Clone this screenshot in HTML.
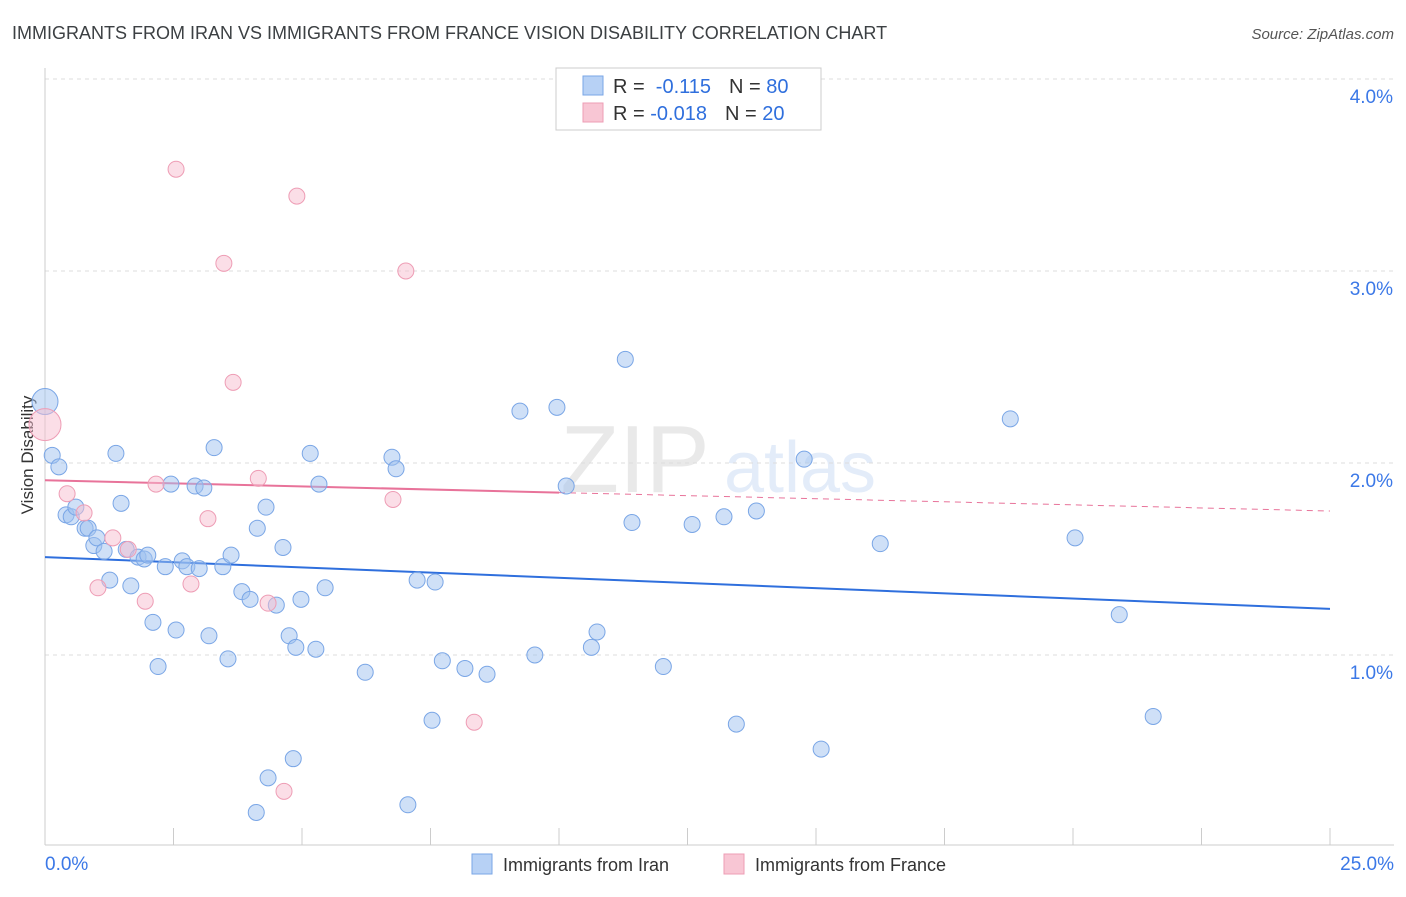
<!DOCTYPE html>
<html><head><meta charset="utf-8"><style>
body{margin:0;background:#fff;font-family:"Liberation Sans",sans-serif;}
svg text{font-family:"Liberation Sans",sans-serif;}
</style></head><body>
<svg id="chart" width="1406" height="892" viewBox="0 0 1406 892" xmlns="http://www.w3.org/2000/svg">
<text x="12" y="39" font-size="18" fill="#3c4043">IMMIGRANTS FROM IRAN VS IMMIGRANTS FROM FRANCE VISION DISABILITY CORRELATION CHART</text>
<text x="1394" y="39" font-size="15" fill="#555" text-anchor="end" font-style="italic">Source: ZipAtlas.com</text>
<text transform="translate(33,455) rotate(-90)" font-size="17" fill="#333" text-anchor="middle">Vision Disability</text>
<g opacity="0.18">
<text x="635" y="492" font-size="96" font-family="Liberation Serif" fill="#888" text-anchor="middle">ZIP</text>
<text x="800" y="492" font-size="72" fill="#6a9be0" text-anchor="middle">atlas</text>
</g>
<g id="grid"></g><g id="axes"></g><g id="trends"></g><g id="points"></g>
<g>
<rect x="556" y="68" width="265" height="62" fill="#fff" stroke="#ccc"/>
<rect x="583" y="76" width="20" height="19" fill="#b7d1f5" stroke="#7aa6e6"/>
<text x="613" y="93" font-size="20" fill="#333">R = <tspan fill="#2f6fdd">&#160;-0.115</tspan><tspan dx="18">N = </tspan><tspan fill="#2f6fdd">80</tspan></text>
<rect x="583" y="103" width="20" height="19" fill="#f8c6d4" stroke="#ee9db5"/>
<text x="613" y="120" font-size="20" fill="#333">R = <tspan fill="#2f6fdd">-0.018</tspan><tspan dx="18">N = </tspan><tspan fill="#2f6fdd">20</tspan></text>
</g>
<g>
<rect x="472" y="854" width="20" height="20" fill="#b7d1f5" stroke="#7aa6e6"/>
<text x="503" y="871" font-size="18" fill="#333">Immigrants from Iran</text>
<rect x="724" y="854" width="20" height="20" fill="#f8c6d4" stroke="#ee9db5"/>
<text x="755" y="871" font-size="18" fill="#333">Immigrants from France</text>
</g>
</svg>
<script>
const yTicks=[1,2,3,4];
const yTickLabels=["1.0%","2.0%","3.0%","4.0%"];
const xTickLabels=["0.0%","25.0%"];
const iranX=[0,0.14,0.27,0.41,0.51,0.60,0.78,0.84,0.95,1.01,1.15,1.26,1.38,1.48,1.58,1.67,1.81,1.93,2.00,2.10,2.20,2.34,2.45,2.55,2.67,2.76,2.92,3.00,3.09,3.19,3.29,3.46,3.56,3.62,3.83,3.99,4.11,4.13,4.30,4.34,4.50,4.63,4.75,4.83,4.88,4.98,5.16,5.27,5.33,5.45,6.23,6.75,6.83,7.06,7.24,7.53,7.59,7.73,8.17,8.60,9.24,9.53,9.96,10.14,10.63,10.74,11.29,11.42,12.03,12.59,13.21,13.45,13.84,14.77,15.10,16.25,18.78,20.04,20.90,21.56];
const iranY=[2.32,2.04,1.98,1.73,1.72,1.77,1.66,1.66,1.57,1.61,1.54,1.39,2.05,1.79,1.55,1.36,1.51,1.50,1.52,1.17,0.94,1.46,1.89,1.13,1.49,1.46,1.88,1.45,1.87,1.10,2.08,1.46,0.98,1.52,1.33,1.29,0.18,1.66,1.77,0.36,1.26,1.56,1.10,0.46,1.04,1.29,2.05,1.03,1.89,1.35,0.91,2.03,1.97,0.22,1.39,0.66,1.38,0.97,0.93,0.90,2.27,1.00,2.29,1.88,1.04,1.12,2.54,1.69,0.94,1.68,1.72,0.64,1.75,2.02,0.51,1.58,2.23,1.61,1.21,0.68];
const franceX=[0,0.43,0.76,1.03,1.32,1.62,1.95,2.16,2.55,2.84,3.17,3.48,3.66,4.15,4.34,4.65,4.90,6.77,7.02,8.35];
const franceY=[2.20,1.84,1.74,1.35,1.61,1.55,1.28,1.89,3.53,1.37,1.71,3.04,2.42,1.92,1.27,0.29,3.39,1.81,3.00,0.65];
const iranTrend=[1.51,1.24];
const franceTrend=[1.91,1.75];
const franceSolidEnd=10;
const NS="http://www.w3.org/2000/svg";
const x0=45,x1=1330,yb=847,pxPerPct=192;
const sx=v=>x0+v/25*(x1-x0);
const sy=v=>yb-v*pxPerPct;
function mk(tag,attrs,parent){const e=document.createElementNS(NS,tag);for(const k in attrs)e.setAttribute(k,attrs[k]);document.getElementById(parent).appendChild(e);return e;}
yTicks.forEach((t,i)=>{
 const l=mk('line',{x1:x0,x2:1394,y1:sy(t),y2:sy(t),stroke:'#ddd','stroke-dasharray':'4,4'},'grid');
 
 
 const tx=mk('text',{x:1393,y:sy(t)+24,'font-size':19,fill:'#3b78e7','text-anchor':'end'},'grid');
 tx.textContent=yTickLabels[i];
 
 
});
const ax=mk('line',{x1:x0,x2:1394,y1:845,y2:845,stroke:'#ccc'},'axes');


const ay=mk('line',{x1:x0,x2:x0,y1:68,y2:845,stroke:'#ccc'},'axes');


for(let i=0;i<=10;i++){const t=mk('line',{x1:sx(i*2.5),x2:sx(i*2.5),y1:828,y2:845,stroke:'#ccc'},'axes');
 
 }
[0,25].forEach((v,i)=>{const t=mk('text',{x:i?1394:45,y:870,'font-size':19,fill:'#3b78e7','text-anchor':i?'end':'start'},'axes');t.textContent=xTickLabels[i];
 
 });
const ft=v=>franceTrend[0]+(franceTrend[1]-franceTrend[0])*v/25;
const pd=mk('line',{x1:sx(franceSolidEnd),y1:sy(ft(franceSolidEnd)),x2:sx(25),y2:sy(ft(25)),stroke:'#e8739a','stroke-width':1,'stroke-dasharray':'6,5'},'trends');


const ps=mk('line',{x1:sx(0),y1:sy(ft(0)),x2:sx(franceSolidEnd),y2:sy(ft(franceSolidEnd)),stroke:'#e8739a','stroke-width':2},'trends');


const bl=mk('line',{x1:sx(0),y1:sy(iranTrend[0]),x2:sx(25),y2:sy(iranTrend[1]),stroke:'#2f6fdd','stroke-width':2},'trends');


iranX.forEach((v,i)=>{const c=mk('circle',{cx:sx(v),cy:sy(iranY[i]),r:i==0?13:8,fill:'rgba(160,194,240,0.5)',stroke:'#7aa6e6','stroke-width':1},'points');
 
 });
franceX.forEach((v,i)=>{const c=mk('circle',{cx:sx(v),cy:sy(franceY[i]),r:i==0?16:8,fill:'rgba(248,190,208,0.5)',stroke:'#ee9db5','stroke-width':1},'points');
 
 });
</script>
</body></html>
